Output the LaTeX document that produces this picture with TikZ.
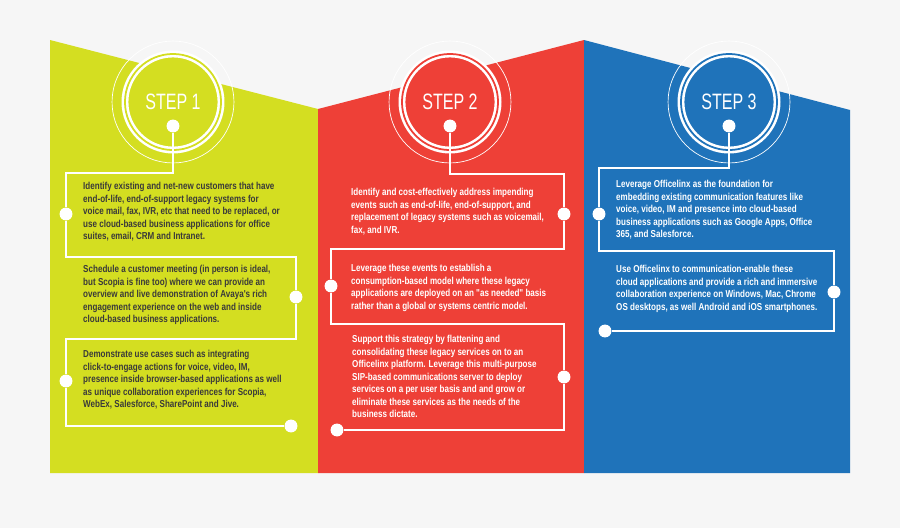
\documentclass[tikz,border=0pt]{standalone}
\usepackage{fontspec}
\setmainfont{Liberation Sans}
\newfontfamily\narrowfont{Liberation Sans}[FakeStretch=0.8]
\newfontfamily\stepfont{Liberation Sans}[FakeStretch=0.72]
\usetikzlibrary{positioning}
\definecolor{bggray}{HTML}{F6F6F6}
\definecolor{lime}{HTML}{D4DE21}
\definecolor{tomato}{HTML}{EE4037}
\definecolor{ocean}{HTML}{1F73BA}
\definecolor{ink}{HTML}{3A3A3A}

\tikzset{
  stepcircle/.style={circle,fill=#1,draw=white,line width=2.2pt,minimum size=82,
    double=#1,double distance=1.5pt,text=white,font=\stepfont\fontsize{19}{19}\selectfont},
  ring/.style={circle,draw=white,line width=0.6pt,minimum size=104},
  dot/.style={circle,fill=white,inner sep=0pt,minimum size=11},
  wire/.style={draw=white,line width=1.2pt},
  blurb/.style={anchor=north west,inner sep=0pt,align=left,text=#1,
    font=\narrowfont\bfseries\fontsize{8.6}{10.7}\selectfont},
}

\begin{document}
\begin{tikzpicture}[x=0.03cm,y=-0.03cm]
\fill[bggray] (0,0) rectangle (900,528);
\useasboundingbox (0,0) rectangle (900,528);

% panels
\fill[lime]   (50,40) -- (318,109) -- (318,473) -- (50,473) -- cycle;
\fill[tomato] (318,109) -- (584,40) -- (584,473) -- (318,473) -- cycle;
\fill[ocean]  (584,40) -- (850,110) -- (850,473) -- (584,473) -- cycle;

% step 1
\node[ring] (ring1) at (173,102) {};
\node[stepcircle=lime] (step1) at (173,102) {STEP 1};
\node[dot] (top1) at (173,126) {};
\coordinate (a1) at (173,173); \coordinate (b1) at (66,173);
\node[dot] (d11) at (66,214) {};
\coordinate (c1) at (66,257); \coordinate (e1) at (296,257);
\node[dot] (d12) at (296,297) {};
\coordinate (f1) at (296,339); \coordinate (g1) at (66,339);
\node[dot] (d13) at (66,381) {};
\coordinate (h1) at (66,426);
\node[dot] (end1) at (291,426) {};
\draw[wire] (top1) -- (a1) -- (b1) -- (d11) -- (c1) -- (e1) -- (d12) -- (f1) -- (g1) -- (d13) -- (h1) -- (end1);
\node[blurb=ink] (t11) at (83,182) {Identify existing and net-new customers that have\\end-of-life, end-of-support legacy systems for\\voice mail, fax, IVR, etc that need to be replaced, or\\use cloud-based business applications for office\\suites, email, CRM and Intranet.};
\node[blurb=ink] (t12) at (83,265) {Schedule a customer meeting (in person is ideal,\\but Scopia is fine too) where we can provide an\\overview and live demonstration of Avaya's rich\\engagement experience on the web and inside\\cloud-based business applications.};
\node[blurb=ink] (t13) at (83,350) {Demonstrate use cases such as integrating\\click-to-engage actions for voice, video, IM,\\presence inside browser-based applications as well\\as unique collaboration experiences for Scopia,\\WebEx, Salesforce, SharePoint and Jive.};

% step 2
\node[ring] (ring2) at (450,102) {};
\node[stepcircle=tomato] (step2) at (450,102) {STEP 2};
\node[dot] (top2) at (450,126) {};
\coordinate (a2) at (450,174); \coordinate (b2) at (564,174);
\node[dot] (d21) at (564,214) {};
\coordinate (c2) at (564,249); \coordinate (e2) at (331,249);
\node[dot] (d22) at (331,286) {};
\coordinate (f2) at (331,324); \coordinate (g2) at (564,324);
\node[dot] (d23) at (564,377) {};
\coordinate (h2) at (564,430);
\node[dot] (end2) at (337,430) {};
\draw[wire] (top2) -- (a2) -- (b2) -- (d21) -- (c2) -- (e2) -- (d22) -- (f2) -- (g2) -- (d23) -- (h2) -- (end2);
\node[blurb=white] (t21) at (351,188) {Identify and cost-effectively address impending\\events such as end-of-life, end-of-support, and\\replacement of legacy systems such as voicemail,\\fax, and IVR.};
\node[blurb=white] (t22) at (351,264) {Leverage these events to establish a\\consumption-based model where these legacy\\applications are deployed on an "as needed" basis\\rather than a global or systems centric model.};
\node[blurb=white] (t23) at (352,335) {Support this strategy by flattening and\\consolidating these legacy services on to an\\Officelinx platform. Leverage this multi-purpose\\SIP-based communications server to deploy\\services on a per user basis and and grow or\\eliminate these services as the needs of the\\business dictate.};

% step 3
\node[ring] (ring3) at (729,102) {};
\node[stepcircle=ocean] (step3) at (729,102) {STEP 3};
\node[dot] (top3) at (729,126) {};
\coordinate (a3) at (729,168); \coordinate (b3) at (599,168);
\node[dot] (d31) at (599,214) {};
\coordinate (c3) at (599,251); \coordinate (e3) at (834,251);
\node[dot] (d32) at (834,292) {};
\coordinate (f3) at (834,331);
\node[dot] (end3) at (605,331) {};
\draw[wire] (top3) -- (a3) -- (b3) -- (d31) -- (c3) -- (e3) -- (d32) -- (f3) -- (end3);
\node[blurb=white] (t31) at (616,180) {Leverage Officelinx as the foundation for\\embedding existing communication features like\\voice, video, IM and presence into cloud-based\\business applications such as Google Apps, Office\\365, and Salesforce.};
\node[blurb=white] (t32) at (616,265) {Use Officelinx to communication-enable these\\cloud applications and provide a rich and immersive\\collaboration experience on Windows, Mac, Chrome\\OS desktops, as well Android and iOS smartphones.};
\end{tikzpicture}
\end{document}
